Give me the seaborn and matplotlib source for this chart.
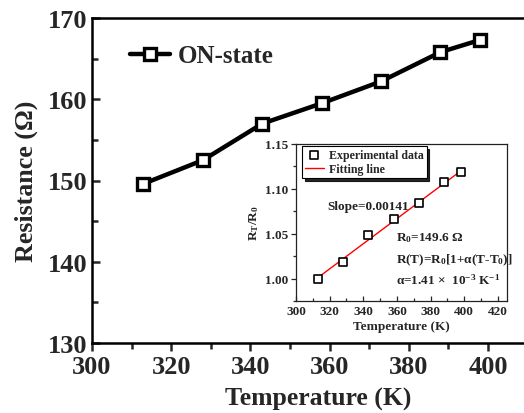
import matplotlib
matplotlib.use("Agg")
import matplotlib.pyplot as plt
from matplotlib.ticker import MultipleLocator
import seaborn as sns
import pandas as pd

# data
temperature = [313, 328, 343, 358, 373, 388, 398]
resistance = [149.6, 152.5, 157.0, 159.5, 162.2, 165.8, 167.3]
ratio = [1.000, 1.019, 1.049, 1.066, 1.084, 1.108, 1.119]
fit_temperature = [313, 398]
fit_ratio = [1.001, 1.120]

sns.set_theme(style="ticks")
plt.rcParams["font.family"] = ["Liberation Serif", "DejaVu Serif"]
plt.rcParams["font.weight"] = "bold"
plt.rcParams["mathtext.fontset"] = "custom"
plt.rcParams["mathtext.rm"] = "Liberation Serif:bold"
plt.rcParams["mathtext.it"] = "Liberation Serif:bold"
plt.rcParams["mathtext.bf"] = "Liberation Serif:bold"

W, H = 524, 414
fig = plt.figure(figsize=(W / 100, H / 100), dpi=100)

# main axes (right edge runs off the picture like the original)
left, right, top, bottom = 92, 545, 19, 344
ax = fig.add_axes([left / W, 1 - bottom / H, (right - left) / W, (bottom - top) / H])

main_df = pd.DataFrame({"T": temperature, "R": resistance})
sns.lineplot(data=main_df, x="T", y="R", ax=ax, color="black", lw=3.2,
             marker="s", markersize=9, markerfacecolor="white",
             markeredgecolor="black", markeredgewidth=2.4, label="ON-state")

ax.set_xlim(300, 300 + (right - left) / 3.96)
ax.set_ylim(130, 170)
ax.xaxis.set_major_locator(MultipleLocator(20))
ax.xaxis.set_minor_locator(MultipleLocator(10))
ax.yaxis.set_major_locator(MultipleLocator(10))
ax.yaxis.set_minor_locator(MultipleLocator(5))
ax.tick_params(axis="x", which="both", direction="out", labelsize=19, width=1.8, pad=3)
ax.tick_params(axis="x", which="major", length=6)
ax.tick_params(axis="x", which="minor", length=4)
ax.tick_params(axis="y", which="both", direction="in", labelsize=19, width=1.8, pad=3)
ax.tick_params(axis="y", which="major", length=6)
ax.tick_params(axis="y", which="minor", length=4)
for s in ax.spines.values():
    s.set_linewidth(1.8)
    s.set_color("black")
ax.set_xlabel("Temperature (K)", fontsize=18.5, fontweight="bold", labelpad=6)
ax.set_ylabel("Resistance (Ω)", fontsize=18.7, fontweight="bold", labelpad=7)

ax.legend(loc="upper left", bbox_to_anchor=(0.062, 0.95), frameon=False,
          fontsize=18, handlelength=1.6, handletextpad=0.3, borderaxespad=0)

# inset
ileft, iright, itop, ibottom = 296, 507, 145, 302
ax2 = fig.add_axes([ileft / W, 1 - ibottom / H, (iright - ileft) / W, (ibottom - itop) / H])
inset_df = pd.DataFrame({"T": temperature, "ratio": ratio})
fit_df = pd.DataFrame({"T": fit_temperature, "ratio": fit_ratio})
sns.scatterplot(data=inset_df, x="T", y="ratio", ax=ax2, marker="s", s=28,
                facecolor="white", edgecolor="black", linewidth=1.2,
                label="Experimental data", zorder=3)
sns.lineplot(data=fit_df, x="T", y="ratio", ax=ax2, color="red", lw=1.0,
             label="Fitting line", zorder=2)

ax2.set_xlim(300, 425.5)
ax2.set_ylim(0.975, 1.15)
ax2.xaxis.set_major_locator(MultipleLocator(20))
ax2.xaxis.set_minor_locator(MultipleLocator(10))
ax2.yaxis.set_major_locator(MultipleLocator(0.05))
ax2.yaxis.set_minor_locator(MultipleLocator(0.025))
ax2.yaxis.set_major_formatter(plt.FormatStrFormatter("%.2f"))
ax2.tick_params(axis="x", which="both", direction="in", labelsize=9.5, width=0.9, pad=3)
ax2.tick_params(axis="y", which="both", direction="out", labelsize=9.5, width=0.9, pad=2)
ax2.tick_params(which="major", length=3.5)
ax2.tick_params(which="minor", length=2)
for s in ax2.spines.values():
    s.set_linewidth(0.9)
    s.set_color("#222222")
ax2.set_xlabel("Temperature (K)", fontsize=9.5, fontweight="bold", labelpad=2)
ax2.set_ylabel(r"R$_\mathregular{T}$/R$_\mathregular{0}$", fontsize=9.5,
               fontweight="bold", labelpad=3)

leg = ax2.legend(loc="upper left", bbox_to_anchor=(0.028, 0.985), fontsize=8.6,
                 fancybox=False, edgecolor="black", framealpha=1,
                 shadow={"color": "black", "alpha": 0.85},
                 handlelength=1.6, handletextpad=0.4, borderpad=0.25,
                 labelspacing=0.15, borderaxespad=0)
leg.get_frame().set_linewidth(0.8)

txt = dict(fontsize=9.5, fontweight="bold", va="center", ha="left", color="#222222")
ax2.text(318.6, 1.081, "Slope=0.00141", **txt)
ax2.text(359.5, 1.046, r"R$_\mathregular{0}$=149.6 Ω", **txt)
ax2.text(359.5, 1.0215, r"R(T)=R$_\mathregular{0}$[1+α(T-T$_\mathregular{0}$)]", **txt)
ax2.text(359.5, 0.999, r"α=1.41 ×  10$^\mathregular{-3}$ K$^\mathregular{-1}$", **txt)

fig.savefig("out.png", dpi=100)
